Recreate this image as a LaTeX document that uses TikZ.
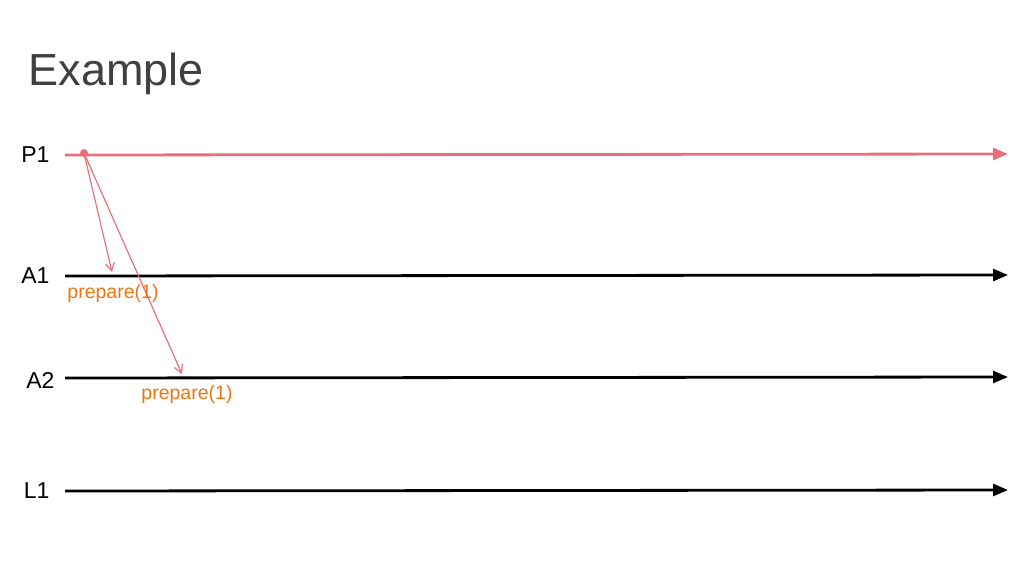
\documentclass[tikz,border=0pt]{standalone}
\usepackage{fontspec}
\setmainfont{Liberation Sans}
\usetikzlibrary{arrows.meta}
\definecolor{procred}{HTML}{E8707A}
\definecolor{msgorange}{HTML}{EE7511}
\definecolor{titlegray}{HTML}{404040}
\tikzset{
  timeline/.style={line width=2.8pt,-{Triangle[length=15pt,width=12pt]}},
  proc/.style={font=\fontsize{23}{26}\selectfont,anchor=east},
  msg/.style={procred,line width=1.2pt,-{Straight Barb[length=8pt,width=9pt]}},
  msglabel/.style={msgorange,font=\fontsize{19.5}{22}\selectfont}
}
\begin{document}
\begin{tikzpicture}[x=1pt,y=-1pt]
  \useasboundingbox (0,0) rectangle (1024,576);
  \node[titlegray,font=\fontsize{45}{52}\selectfont,anchor=west] (title) at (25,74) {Example};

  \node[proc] (P1) at (53,155) {P1};
  \node[proc] (A1) at (53,276) {A1};
  \node[proc] (A2) at (58,380) {A2};
  \node[proc] (L1) at (53,491) {L1};

  \coordinate (p1s) at (65,155);  \coordinate (p1e) at (1008,154);
  \coordinate (a1s) at (65,276);  \coordinate (a1e) at (1008,275);
  \coordinate (a2s) at (65,378);  \coordinate (a2e) at (1008,377);
  \coordinate (l1s) at (65,491);  \coordinate (l1e) at (1008,490);

  \draw[timeline,procred] (p1s) -- (p1e);
  \draw[timeline] (a1s) -- (a1e);
  \draw[timeline] (a2s) -- (a2e);
  \draw[timeline] (l1s) -- (l1e);

  \fill[procred] (84,153) circle (4pt) coordinate (send);
  \coordinate (recv1) at (112,272);
  \coordinate (recv2) at (182,374);
  \draw[msg] (send) -- (recv1);
  \draw[msg] (send) -- (recv2);

  \node[msglabel] (lab1) at (113,293) {prepare(1)};
  \node[msglabel] (lab2) at (187,394) {prepare(1)};
\end{tikzpicture}
\end{document}
